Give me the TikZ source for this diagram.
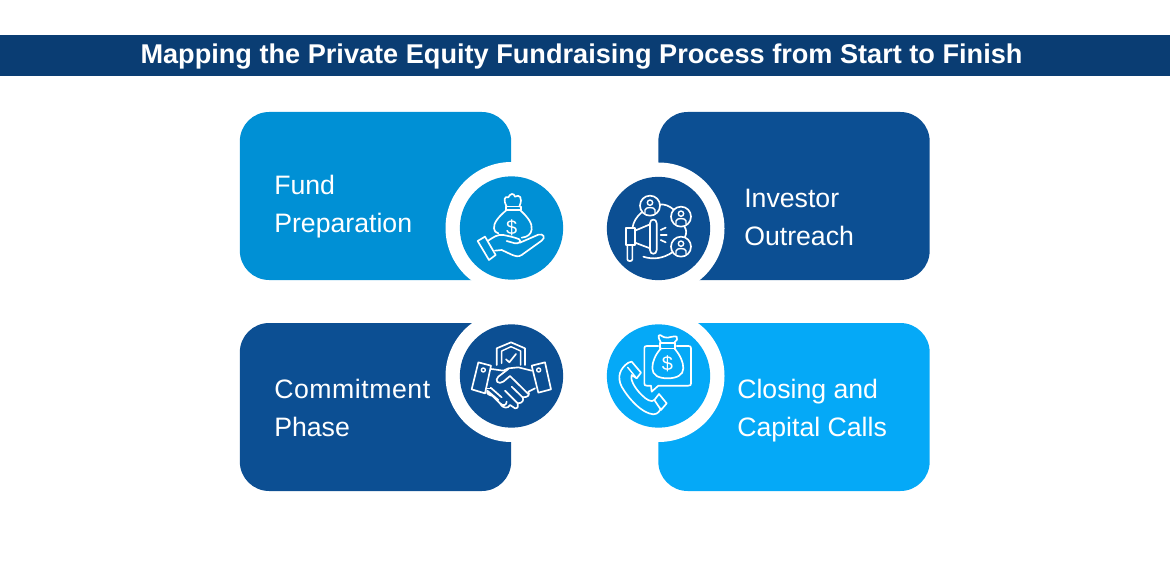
\documentclass[tikz,border=0pt]{standalone}
\usepackage{fontspec}
\setmainfont{Liberation Sans}
\tikzset{
  x=0.75pt,y=-0.75pt,
  titlebar/.style={fill=barblue,draw=none,minimum width=877.5pt,minimum height=30.75pt,inner sep=0,text=white},
  titletext/.style={text=white,inner sep=0,anchor=base,font=\fontsize{20.35}{24}\selectfont\bfseries},
  card/.style={draw=none,rounded corners=22pt,minimum width=203.5pt,minimum height=126pt,inner sep=0},
  ring/.style={circle,fill=white,draw=none,minimum size=99pt,inner sep=0},
  disc/.style={circle,draw=none,minimum size=77.5pt,inner sep=0},
  cardtext/.style={text=white,align=left,anchor=west,inner sep=0,font=\fontsize{20}{27.9}\selectfont},
  icon/.style={draw=white,line width=1.25pt,line cap=round,line join=round,fill=none},
  iconsm/.style={icon,line width=1.05pt},
  dollar/.style={text=white,inner sep=0,font=\fontsize{15}{15}\selectfont},
}
\definecolor{barblue}{HTML}{0A3D73}
\definecolor{cardA}{HTML}{0090D5}
\definecolor{cardB}{HTML}{0C4F93}
\definecolor{cardC}{HTML}{05A9F7}
\begin{document}
\begin{tikzpicture}
\useasboundingbox (0,0) rectangle (1170,570);
\node[titlebar] (bar) at (585,55.5) {};
\node[titletext] (title) at (581.5,64) {Mapping the Private Equity Fundraising Process from Start to Finish};

\node[card,fill=cardA] (c1) at (375.5,196) {};
\node[card,fill=cardB] (c2) at (794,196) {};
\node[card,fill=cardB] (c3) at (375.5,407) {};
\node[card,fill=cardC] (c4) at (794,407) {};

\node[ring] (r1) at (511.5,228) {};
\node[ring] (r2) at (658.5,228.5) {};
\node[ring] (r3) at (511.5,376) {};
\node[ring] (r4) at (658.5,376) {};

\node[disc,fill=cardA] (d1) at (511.5,228) {};
\node[disc,fill=cardB] (d2) at (658.5,228.5) {};
\node[disc,fill=cardB] (d3) at (511.5,376) {};
\node[disc,fill=cardC] (d4) at (658.5,376) {};

\node[cardtext] (t1) at (274,206) {\strut Fund\\\strut Preparation};
\node[cardtext] (t2) at (744,219) {\strut Investor\\\strut Outreach};
\node[cardtext] (t3) at (274,410) {\strut{\addfontfeature{LetterSpace=2}Commitment}\\\strut Phase};
\node[cardtext] (t4) at (737,410) {\strut Closing and\\\strut Capital Calls};

% icon 1: money bag on hand
\begin{scope}[shift={(440,160)},x=0.25pt,y=-0.25pt]
\draw[icon] (200,140) .. controls (190,120) and (192,108) .. (205,112) .. controls (210,100) and (222,98) .. (225,110) .. controls (238,102) and (250,112) .. (238,140);
\draw[icon] (197,140) -- (243,140) -- (243,150) -- (197,150) -- cycle;
\draw[icon] (200,150) .. controls (175,170) and (160,190) .. (162,205) .. controls (162,213) and (167,218) .. (175,220);
\draw[icon] (240,150) .. controls (262,170) and (278,190) .. (275,208) .. controls (274,222) and (262,232) .. (245,233);
\node[dollar] (dollar1) at (215,202) {\$};
\draw[icon] (113,243) -- (135,230) -- (167,285) -- (147,300) -- cycle;
\draw[icon] (143,243) .. controls (160,232) and (172,222) .. (190,225) .. controls (205,228) and (225,232) .. (238,238) .. controls (245,245) and (235,252) .. (225,250) -- (200,243);
\draw[icon] (240,248) -- (295,224) .. controls (310,220) and (318,232) .. (305,242) -- (245,285) .. controls (235,292) and (225,288) .. (215,284) -- (185,270) -- (165,272);
\end{scope}

% icon 2: megaphone and people
\begin{scope}[shift={(595,165)},x=0.25pt,y=-0.25pt]
\draw[icon] (165,122) circle (30);
\draw[icon] (258,155) circle (30);
\draw[icon] (258,245) circle (30);
\draw[iconsm] (165,113) circle (8);
\draw[iconsm] (150,143) -- (150,135) .. controls (150,125) and (180,125) .. (180,135) -- (180,143);
\draw[iconsm] (258,146) circle (8);
\draw[iconsm] (243,176) -- (243,168) .. controls (243,158) and (273,158) .. (273,168) -- (273,176);
\draw[iconsm] (258,236) circle (8);
\draw[iconsm] (243,266) -- (243,258) .. controls (243,248) and (273,248) .. (273,258) -- (273,266);
\draw[icon] (195,118) .. controls (210,118) and (222,122) .. (235,133);
\draw[icon] (268,184) .. controls (275,195) and (275,205) .. (270,216);
\draw[icon] (232,262) .. controls (205,280) and (175,285) .. (145,275);
\draw[icon] (140,142) .. controls (125,155) and (115,170) .. (112,190);
\draw[icon] (92,190) rectangle (120,240);
\draw[icon] (97,240) -- (97,283) .. controls (97,290) and (112,290) .. (112,283) -- (112,240);
\draw[icon] (120,197) -- (165,178);
\draw[icon] (120,233) -- (165,250);
\draw[icon] (165,175) .. controls (165,160) and (185,160) .. (185,175) -- (185,255) .. controls (185,270) and (165,270) .. (165,255) -- cycle;
\draw[icon] (197,195) -- (212,188);
\draw[icon] (197,210) -- (215,210);
\draw[icon] (197,225) -- (212,232);
\end{scope}

% icon 3: handshake and shield
\begin{scope}[shift={(450,320)},x=0.25pt,y=-0.25pt]
\draw[icon] (140,135) -- (140,85) -- (183,67) -- (225,85) -- (225,135);
\draw[iconsm] (155,130) -- (155,93) -- (183,80) -- (212,93) -- (212,135);
\draw[icon] (168,118) -- (178,127) -- (198,102);
\draw[icon] (85,127) -- (123,137) -- (105,220) -- (65,208) -- cycle;
\draw[iconsm] (100,150) circle (6);
\draw[icon] (245,137) -- (285,127) -- (303,208) -- (265,218) -- cycle;
\draw[iconsm] (266,150) circle (6);
\draw[icon] (124,147) -- (160,152) -- (175,145) -- (205,142) -- (245,152);
\draw[icon] (175,147) -- (145,170) .. controls (132,182) and (145,195) .. (160,185) -- (180,168) -- (235,222);
\draw[icon] (108,205) -- (125,205);
\draw[icon] (112,212) -- (145,240) (122,203) -- (155,232) (112,212) .. controls (108,222) and (118,225) .. (128,228);
\draw[icon] (128,228) -- (150,250) .. controls (160,260) and (170,255) .. (170,245);
\draw[icon] (150,250) .. controls (160,268) and (175,265) .. (180,255) -- (195,265) .. controls (205,265) and (205,258) .. (203,250) -- (165,212);
\draw[icon] (203,250) .. controls (218,250) and (222,240) .. (218,232) -- (185,200);
\draw[icon] (218,232) .. controls (235,232) and (240,225) .. (235,215);
\draw[icon] (235,215) -- (255,205);
\end{scope}

% icon 4: phone and bubble
\begin{scope}[shift={(595,320)},x=0.25pt,y=-0.25pt]
\draw[icon] (190,78) -- (155,78) .. controls (150,78) and (148,80) .. (148,85) -- (148,190) .. controls (148,195) and (150,197) .. (155,197) -- (168,197) -- (170,215) -- (190,197) -- (280,197) .. controls (286,197) and (288,195) .. (288,190) -- (288,85) .. controls (288,80) and (286,78) .. (280,78) -- (245,78);
\draw[icon] (198,68) .. controls (190,55) and (188,45) .. (195,45) .. controls (205,50) and (210,55) .. (218,53) .. controls (228,52) and (238,47) .. (245,50) .. controls (250,55) and (245,62) .. (238,68);
\draw[icon] (195,68) -- (240,68) -- (240,85) -- (195,85) -- cycle;
\draw[icon] (198,85) .. controls (180,105) and (172,125) .. (172,145) .. controls (172,165) and (190,175) .. (218,175) .. controls (245,175) and (265,165) .. (265,145) .. controls (265,125) and (255,105) .. (238,85);
\node[dollar] (dollar4) at (217,130) {\$};
\draw[icon] (100,128) -- (110,125) -- (138,158) -- (125,175) -- (110,165) .. controls (105,175) and (115,200) .. (140,225) .. controls (155,240) and (170,248) .. (178,240);
\draw[icon] (100,128) .. controls (75,145) and (65,170) .. (80,200) .. controls (100,235) and (140,280) .. (175,283) .. controls (190,283) and (195,270) .. (198,265);
\draw[icon] (178,240) -- (192,222) -- (215,250) -- (198,270) -- cycle;
\draw[iconsm] (98,142) -- (125,175);
\end{scope}
\end{tikzpicture}
\end{document}
